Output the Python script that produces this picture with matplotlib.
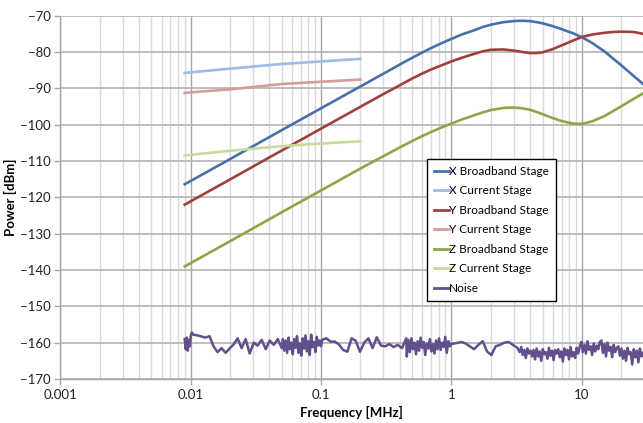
import numpy as np
import matplotlib
matplotlib.use("Agg")
import matplotlib.pyplot as plt
from matplotlib.ticker import LogLocator, FixedLocator, NullFormatter

plt.rcParams['font.family'] = ['Lato', 'DejaVu Sans']

# ---------------- data ----------------
bb_freq = [0.009, 0.01, 0.02, 0.05, 0.1, 0.2, 0.3, 0.4, 0.5, 0.6, 0.7, 0.85, 1.0,
           1.2, 1.5, 1.75, 2.0, 2.5, 3.0, 3.5, 4.0, 4.5, 5.0, 6.0, 7.0, 8.5, 10.0,
           12.0, 15.0, 17.5, 20.0, 25.0, 29.5]
x_broadband = [-116.4, -115.5, -109.5, -101.5, -95.5, -89.5, -86.0, -83.5, -81.6,
               -80.1, -78.9, -77.5, -76.4, -75.2, -74.0, -73.1, -72.5, -71.8, -71.5,
               -71.4, -71.5, -71.8, -72.1, -72.9, -73.7, -74.8, -75.9, -77.5, -79.9,
               -81.9, -83.6, -86.6, -88.8]
y_broadband = [-122.0, -121.1, -115.1, -107.1, -101.1, -95.1, -91.6, -89.2, -87.3,
               -85.9, -84.8, -83.6, -82.6, -81.6, -80.5, -79.8, -79.4, -79.3, -79.6,
               -80.0, -80.3, -80.3, -80.1, -79.2, -78.2, -76.9, -75.9, -75.2, -74.7,
               -74.5, -74.4, -74.5, -75.0]
z_broadband = [-139.0, -138.1, -132.1, -124.1, -118.1, -112.1, -108.7, -106.3, -104.5,
               -103.1, -102.0, -100.7, -99.7, -98.6, -97.4, -96.6, -96.0, -95.4, -95.3,
               -95.5, -95.9, -96.5, -97.1, -98.2, -99.0, -99.7, -99.8, -99.1, -97.6,
               -96.2, -95.0, -92.9, -91.4]

cur_freq = [0.009, 0.01, 0.02, 0.05, 0.1, 0.2]
x_current = [-85.8, -85.6, -84.6, -83.3, -82.6, -81.9]
y_current = [-91.3, -91.1, -90.3, -88.8, -88.2, -87.6]
z_current = [-108.5, -108.3, -107.2, -105.9, -105.2, -104.6]

# noise trace, read segment by segment (frequency spans of the sweep)
noise_seg_spans = [(0.009, 0.0102), (0.0105, 0.05), (0.051, 0.1), (0.102, 0.45),
                   (0.455, 1.0), (1.02, 3.2), (3.25, 29.5)]
noise_seg_values = [
    [-159.0, -161.8, -158.6, -162.2, -159.2, -161.0, -158.2, -157.2],
    [-157.8, -158.0, -158.3, -158.6, -158.2, -161.0, -162.6, -161.5, -162.8, -161.6,
     -160.5, -158.8, -161.5, -159.0, -163.0, -160.0, -160.8, -159.2, -161.8, -159.4,
     -160.6, -159.0, -161.5],
    [-159.0, -162.2, -159.4, -162.8, -158.6, -161.8, -160.0, -163.2, -159.0, -161.4,
     -158.2, -162.8, -160.2, -163.6, -158.8, -161.6, -158.0, -162.4, -159.6, -163.4,
     -157.8, -161.2, -159.8, -162.6, -158.4, -160.8, -159.4, -161.0],
    [-159.2, -158.8, -159.7, -159.7, -160.5, -162.0, -162.5, -158.8, -159.5, -162.5,
     -160.0, -158.8, -161.5, -158.5, -160.8, -161.0, -160.4, -161.2, -160.6, -161.5,
     -158.8],
    [-163.8, -159.2, -162.6, -158.8, -161.8, -160.0, -163.2, -159.6, -162.2, -158.6,
     -161.4, -159.8, -163.4, -160.2, -161.6, -159.0, -162.4, -160.4, -163.0, -159.4,
     -161.8, -158.8, -162.0, -160.0, -161.2, -158.4, -162.8, -159.6, -161.0, -160.4],
    [-160.3, -160.1, -159.8, -160.2, -161.0, -161.8, -160.6, -159.6, -162.4, -163.4,
     -161.0, -160.6, -160.0, -159.8, -160.6, -161.4],
    [-161.8, -162.6, -161.2, -163.4, -162.0, -164.2, -161.6, -163.0, -162.2, -163.8,
     -162.0, -164.6, -161.6, -163.8, -162.4, -165.0, -161.8, -163.2, -162.6, -164.4,
     -161.4, -163.6, -162.2, -164.8, -162.0, -163.0,
     -161.8, -164.0, -162.4, -165.2, -161.6, -163.4, -162.0, -164.6, -161.2, -163.8,
     -162.6, -164.2, -161.4, -163.0, -161.0,
     -159.8, -162.6, -160.6, -163.0, -159.6, -162.0, -161.0, -163.4, -160.2, -162.4,
     -160.8, -161.8, -159.8,
     -159.4, -162.8, -160.4, -163.8, -160.0, -162.2, -161.2, -164.0, -160.6, -162.6,
     -161.4,
     -161.0, -163.6, -161.6, -164.4, -162.2, -165.0, -161.4, -163.2, -162.6, -166.0,
     -161.8, -164.0, -162.2, -165.4, -161.6, -163.8, -162.8],
]
noise_freq = np.concatenate([np.geomspace(a, b, len(v))
                             for (a, b), v in zip(noise_seg_spans, noise_seg_values)])
noise_db = np.concatenate([np.array(v) for v in noise_seg_values])

series_labels = ['X Broadband Stage', 'X Current Stage', 'Y Broadband Stage',
                 'Y Current Stage', 'Z Broadband Stage', 'Z Current Stage', 'Noise']
y_ticks = [-70, -80, -90, -100, -110, -120, -130, -140, -150, -160, -170]
x_ticks = [0.001, 0.01, 0.1, 1, 10]
x_ticklabels = ['0.001', '0.01', '0.1', '1', '10']

# ---------------- styling ----------------
colors = ['#4A70AC', '#9CBBE5', '#A0403D', '#D49D9C', '#8CA748', '#C9DB9B', '#62508C']

fig = plt.figure(figsize=(6.43, 4.23), dpi=100)
ax = fig.add_axes([0.0938, 0.104, 1 - 0.0938, 0.859])

lw = 1.9
ax.plot(bb_freq, x_broadband, color=colors[0], lw=lw, label=series_labels[0], zorder=5)
ax.plot(cur_freq, x_current, color=colors[1], lw=lw, label=series_labels[1], zorder=5)
ax.plot(bb_freq, y_broadband, color=colors[2], lw=lw, label=series_labels[2], zorder=5)
ax.plot(cur_freq, y_current, color=colors[3], lw=lw, label=series_labels[3], zorder=5)
ax.plot(bb_freq, z_broadband, color=colors[4], lw=lw, label=series_labels[4], zorder=5)
ax.plot(cur_freq, z_current, color=colors[5], lw=lw, label=series_labels[5], zorder=5)
ax.plot(noise_freq, noise_db, color=colors[6], lw=1.8, label=series_labels[6], zorder=5)

ax.set_xscale('log')
ax.set_xlim(0.001, 29.5)
ax.set_ylim(-170, -70)

ax.xaxis.set_major_locator(FixedLocator(x_ticks))
ax.set_xticklabels(x_ticklabels)
ax.xaxis.set_minor_locator(LogLocator(base=10, subs=np.arange(2, 10), numticks=20))
ax.xaxis.set_minor_formatter(NullFormatter())
ax.yaxis.set_major_locator(FixedLocator(y_ticks))

ax.grid(which='major', axis='x', color='#A6A6A6', lw=1.0)
ax.grid(which='minor', axis='x', color='#D9D9D9', lw=1.0)
ax.grid(which='major', axis='y', color='#B3B3B3', lw=1.2)
ax.set_axisbelow(True)

for s in ['top', 'right']:
    ax.spines[s].set_visible(False)
for s in ['left', 'bottom']:
    ax.spines[s].set_color('#A6A6A6')
    ax.spines[s].set_linewidth(1.0)

ax.tick_params(axis='both', which='major', length=4, width=1.0, color='#A6A6A6',
               labelsize=9.5, labelcolor='#222222', pad=3)
ax.tick_params(axis='x', which='minor', length=0)

ax.set_xlabel('Frequency [MHz]', fontsize=9.5, fontweight='bold', labelpad=4)
ax.set_ylabel('Power [dBm]', fontsize=9.5, fontweight='bold', labelpad=2)

leg = ax.legend(loc='upper left', bbox_to_anchor=(0.629, 0.606), fontsize=8.5,
                frameon=True, fancybox=False, edgecolor='black', framealpha=1,
                handlelength=1.3, handletextpad=0.0, labelspacing=0.72,
                borderpad=0.6, borderaxespad=0)
leg.get_frame().set_linewidth(1.0)
for h in leg.get_lines():
    h.set_linewidth(2.0)

fig.savefig('out.png', dpi=100)
